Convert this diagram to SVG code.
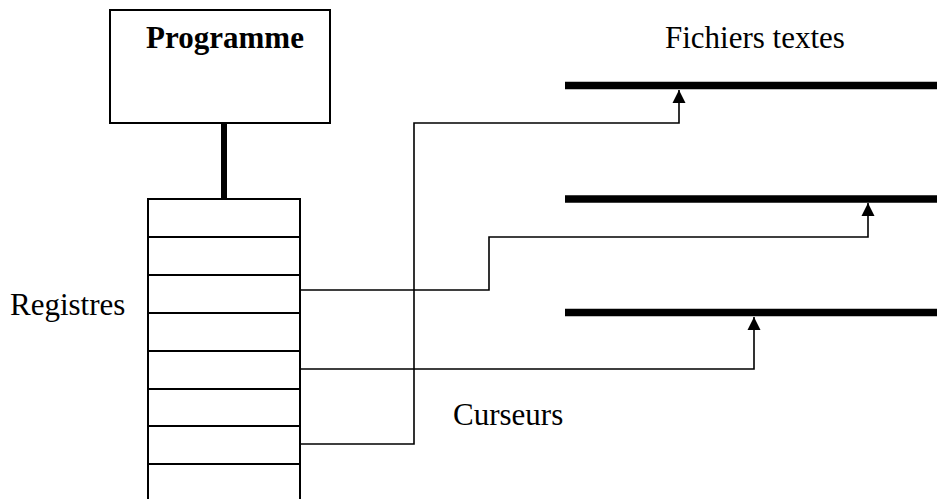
<svg xmlns="http://www.w3.org/2000/svg" width="937" height="499" viewBox="0 0 937 499">
<style>
.t{font-family:"Liberation Serif","Times New Roman",serif;font-size:31px;fill:#000}
.b{font-weight:bold}
.box{fill:#fff;stroke:#000;stroke-width:2}
.row{stroke:#000;stroke-width:2}
.bar{stroke:#000;stroke-width:7.5}
.c{fill:none;stroke:#000;stroke-width:1.6}
</style>
<defs>
<marker id="ah" markerWidth="14" markerHeight="14" refX="13" refY="7" orient="auto" markerUnits="userSpaceOnUse">
<path d="M0,0.5 L13,7 L0,13.5 Z" fill="#000"/>
</marker>
</defs>
<rect width="937" height="499" fill="#fff"/>
<g id="programme">
<rect class="box" x="110" y="10" width="220" height="113"/>
<text class="t b" x="225" y="48" text-anchor="middle">Programme</text>
</g>
<g id="link">
<line x1="224" y1="123" x2="224" y2="199" stroke="#000" stroke-width="6"/>
</g>
<g id="registres">
<rect class="box" x="148" y="199" width="152" height="310"/>
<line class="row" x1="148" y1="237" x2="300" y2="237"/>
<line class="row" x1="148" y1="275" x2="300" y2="275"/>
<line class="row" x1="148" y1="313" x2="300" y2="313"/>
<line class="row" x1="148" y1="351" x2="300" y2="351"/>
<line class="row" x1="148" y1="389" x2="300" y2="389"/>
<line class="row" x1="148" y1="426" x2="300" y2="426"/>
<line class="row" x1="148" y1="464" x2="300" y2="464"/>
<text class="t" x="10" y="315">Registres</text>
</g>
<g id="fichiers">
<line class="bar" x1="565" y1="85.5" x2="937" y2="85.5"/>
<line class="bar" x1="565" y1="199" x2="937" y2="199"/>
<line class="bar" x1="565" y1="312.5" x2="937" y2="312.5"/>
<text class="t" x="665" y="48">Fichiers textes</text>
</g>
<g id="curseurs">
<text class="t" x="453" y="425">Curseurs</text>
</g>
<g id="connectors">
<polyline class="c" points="300,444 414,444 414,123 679,123 679,90" marker-end="url(#ah)"/>
<polyline class="c" points="300,290 489,290 489,237 868,237 868,203" marker-end="url(#ah)"/>
<polyline class="c" points="300,369 754,369 754,317" marker-end="url(#ah)"/>
</g>
</svg>
